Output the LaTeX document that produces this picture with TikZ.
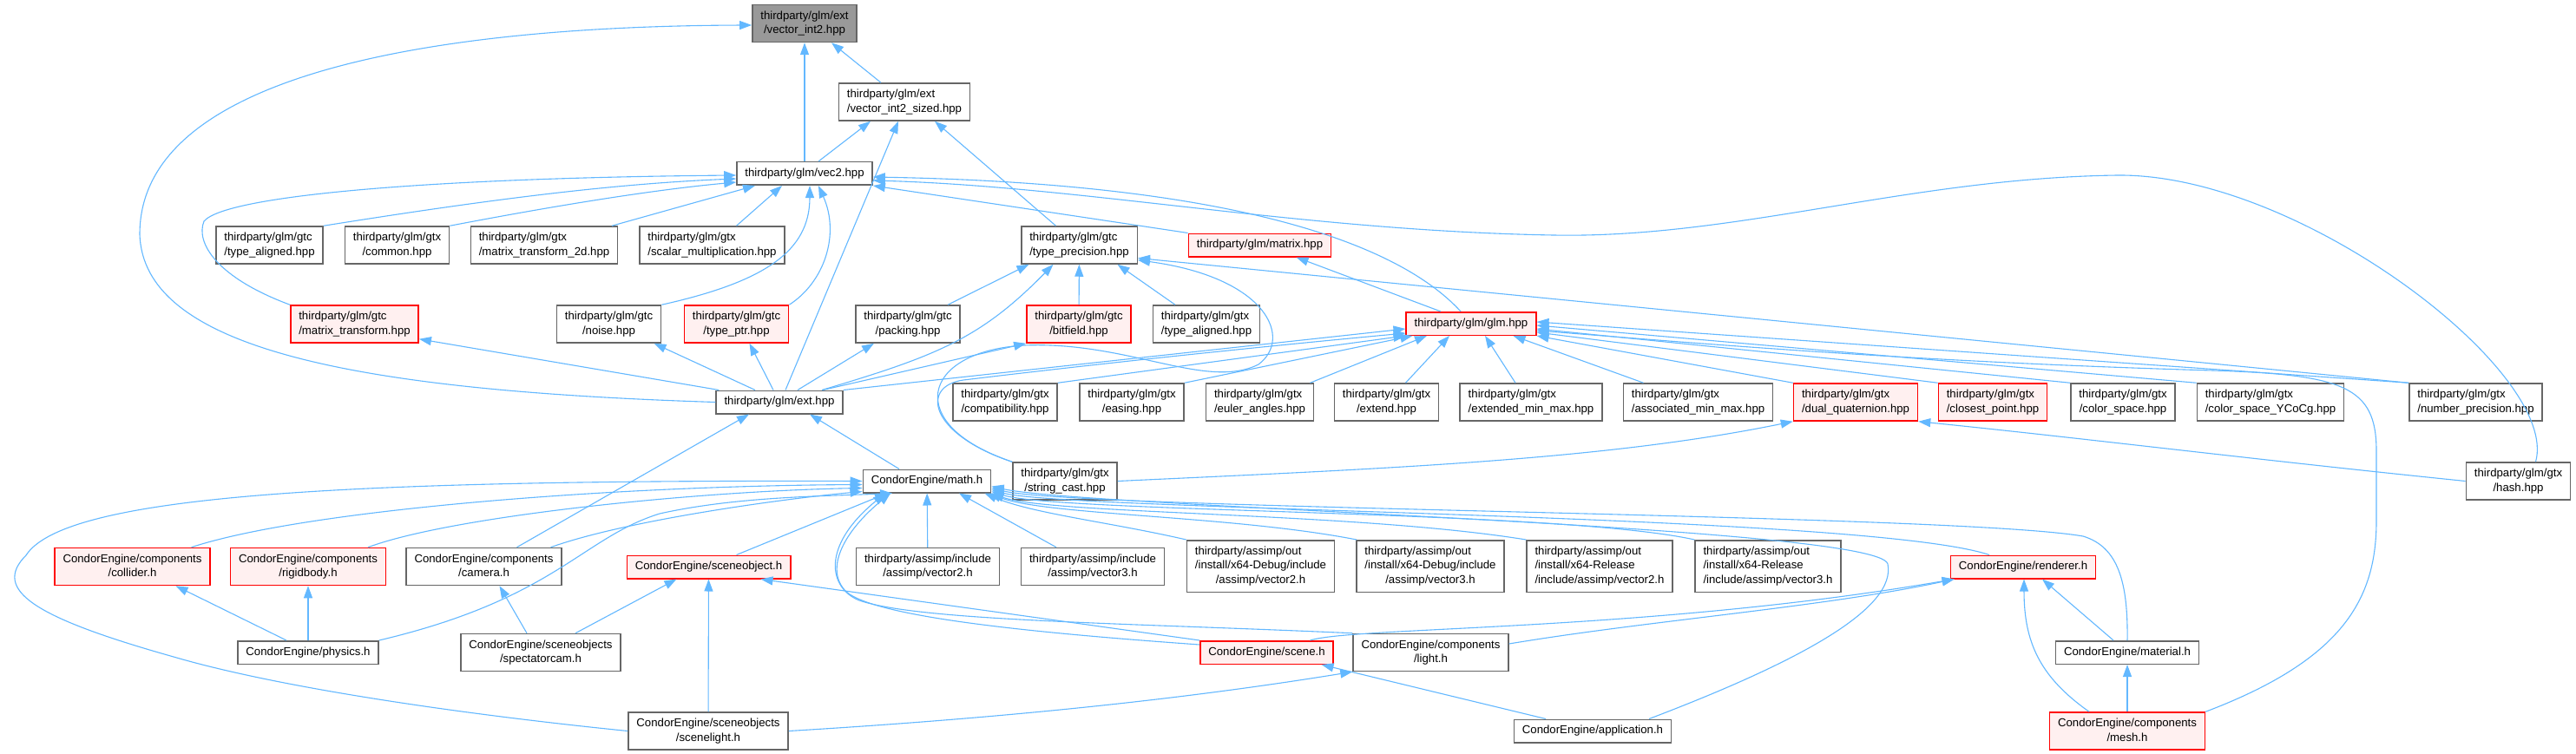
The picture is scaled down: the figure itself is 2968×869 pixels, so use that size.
\documentclass[tikz,border=0pt]{standalone}
\usepackage{fontspec}
\setmainfont{Liberation Sans}
\usetikzlibrary{arrows.meta}

\definecolor{edgeblue}{HTML}{63B8FF}
\definecolor{boxgray}{HTML}{666666}
\definecolor{rootgray}{HTML}{999999}
\definecolor{hotfill}{HTML}{FFF0F0}

% file label: lines flush left, last line centred
\newcommand{\fname}[1]{\begin{tabular}{@{}l@{}}#1\end{tabular}}
\newcommand{\lastln}[1]{\multicolumn{1}{@{}c@{}}{#1}}

\tikzset{
  hdr/.style={draw=boxgray, fill=white, line width=1.5pt,
    inner xsep=9.5pt, inner ysep=5pt,
    font=\fontsize{13.2}{16.5}\selectfont},
  hdrred/.style={hdr, draw=red, fill=hotfill},
  hdrroot/.style={hdr, fill=rootgray},
  dep/.style={draw=edgeblue, line width=1.1pt, -{Triangle[length=14pt,width=10pt]}}
}

\begin{document}
\begin{tikzpicture}[x=1pt, y=-1pt]
    \useasboundingbox (0,0) rectangle (2968,869);
    \fill[white] (0,0) rectangle (2968,869);

    % glm: top rows
    \node[hdrroot] (vi2) at (927,27) {\fname{thirdparty/glm/ext\\\lastln{/vector\_int2.hpp}}};
    \node[hdr] (sized) at (1042,117.5) {\fname{thirdparty/glm/ext\\\lastln{/vector\_int2\_sized.hpp}}};
    \node[hdr] (vec2) at (927,200) {\fname{thirdparty/glm/vec2.hpp}};

    \node[hdr] (gtcalign) at (310.5,282.5) {\fname{thirdparty/glm/gtc\\\lastln{/type\_aligned.hpp}}};
    \node[hdr] (common) at (457.5,282.5) {\fname{thirdparty/glm/gtx\\\lastln{/common.hpp}}};
    \node[hdr] (mt2d) at (627,282.5) {\fname{thirdparty/glm/gtx\\\lastln{/matrix\_transform\_2d.hpp}}};
    \node[hdr] (scalar) at (820.5,282.5) {\fname{thirdparty/glm/gtx\\\lastln{/scalar\_multiplication.hpp}}};
    \node[hdr] (tprec) at (1243.5,282.5) {\fname{thirdparty/glm/gtc\\\lastln{/type\_precision.hpp}}};
    \node[hdrred] (matrix) at (1451.5,282.5) {\fname{thirdparty/glm/matrix.hpp}};

    \node[hdrred] (mtrans) at (408.5,373.5) {\fname{thirdparty/glm/gtc\\\lastln{/matrix\_transform.hpp}}};
    \node[hdr] (noise) at (701.5,373.5) {\fname{thirdparty/glm/gtc\\\lastln{/noise.hpp}}};
    \node[hdrred] (typeptr) at (848.5,373.5) {\fname{thirdparty/glm/gtc\\\lastln{/type\_ptr.hpp}}};
    \node[hdr] (packing) at (1046,373.5) {\fname{thirdparty/glm/gtc\\\lastln{/packing.hpp}}};
    \node[hdrred] (bitfield) at (1243,373.5) {\fname{thirdparty/glm/gtc\\\lastln{/bitfield.hpp}}};
    \node[hdr] (gtxalign) at (1390,373.5) {\fname{thirdparty/glm/gtx\\\lastln{/type\_aligned.hpp}}};
    \node[hdrred] (glm) at (1695,373) {\fname{thirdparty/glm/glm.hpp}};

    % glm: ext.hpp and the gtx row
    \node[hdr] (ext) at (898,463.5) {\fname{thirdparty/glm/ext.hpp}};
    \node[hdr] (compat) at (1158,463.5) {\fname{thirdparty/glm/gtx\\\lastln{/compatibility.hpp}}};
    \node[hdr] (easing) at (1304,463.5) {\fname{thirdparty/glm/gtx\\\lastln{/easing.hpp}}};
    \node[hdr] (euler) at (1451.5,463.5) {\fname{thirdparty/glm/gtx\\\lastln{/euler\_angles.hpp}}};
    \node[hdr] (extend) at (1597.5,463.5) {\fname{thirdparty/glm/gtx\\\lastln{/extend.hpp}}};
    \node[hdr] (extminmax) at (1764,463.5) {\fname{thirdparty/glm/gtx\\\lastln{/extended\_min\_max.hpp}}};
    \node[hdr] (assocminmax) at (1956.5,463.5) {\fname{thirdparty/glm/gtx\\\lastln{/associated\_min\_max.hpp}}};
    \node[hdrred] (dualquat) at (2138,463.5) {\fname{thirdparty/glm/gtx\\\lastln{/dual\_quaternion.hpp}}};
    \node[hdrred] (closest) at (2296,463.5) {\fname{thirdparty/glm/gtx\\\lastln{/closest\_point.hpp}}};
    \node[hdr] (colsp) at (2446,463.5) {\fname{thirdparty/glm/gtx\\\lastln{/color\_space.hpp}}};
    \node[hdr] (ycocg) at (2616,463.5) {\fname{thirdparty/glm/gtx\\\lastln{/color\_space\_YCoCg.hpp}}};
    \node[hdr] (numprec) at (2852.5,463.5) {\fname{thirdparty/glm/gtx\\\lastln{/number\_precision.hpp}}};

    \node[hdr] (mathh) at (1068,554.5) {\fname{CondorEngine/math.h}};
    \node[hdr] (strcast) at (1227,554.5) {\fname{thirdparty/glm/gtx\\\lastln{/string\_cast.hpp}}};
    \node[hdr] (hash) at (2901.5,554.5) {\fname{thirdparty/glm/gtx\\\lastln{/hash.hpp}}};

    % engine headers and assimp
    \node[hdrred] (collider) at (152.5,653) {\fname{CondorEngine/components\\\lastln{/collider.h}}};
    \node[hdrred] (rigidbody) at (355,653) {\fname{CondorEngine/components\\\lastln{/rigidbody.h}}};
    \node[hdr] (camera) at (557.5,653) {\fname{CondorEngine/components\\\lastln{/camera.h}}};
    \node[hdrred] (sceneobj) at (816.5,653.5) {\fname{CondorEngine/sceneobject.h}};
    \node[hdr] (aivec2) at (1069,653) {\fname{thirdparty/assimp/include\\\lastln{/assimp/vector2.h}}};
    \node[hdr] (aivec3) at (1259,653) {\fname{thirdparty/assimp/include\\\lastln{/assimp/vector3.h}}};
    \node[hdr] (dbgvec2) at (1452.5,652.5) {\fname{thirdparty/assimp/out\\/install/x64-Debug/include\\\lastln{/assimp/vector2.h}}};
    \node[hdr] (dbgvec3) at (1648,652.5) {\fname{thirdparty/assimp/out\\/install/x64-Debug/include\\\lastln{/assimp/vector3.h}}};
    \node[hdr] (relvec2) at (1843,652.5) {\fname{thirdparty/assimp/out\\/install/x64-Release\\\lastln{/include/assimp/vector2.h}}};
    \node[hdr] (relvec3) at (2037,652.5) {\fname{thirdparty/assimp/out\\/install/x64-Release\\\lastln{/include/assimp/vector3.h}}};
    \node[hdrred] (renderer) at (2331,653.5) {\fname{CondorEngine/renderer.h}};

    \node[hdr] (physics) at (355,752) {\fname{CondorEngine/physics.h}};
    \node[hdr] (spectcam) at (623,752) {\fname{CondorEngine/sceneobjects\\\lastln{/spectatorcam.h}}};
    \node[hdrred] (scene) at (1459.5,752) {\fname{CondorEngine/scene.h}};
    \node[hdr] (light) at (1648.5,752) {\fname{CondorEngine/components\\\lastln{/light.h}}};
    \node[hdr] (material) at (2451,752) {\fname{CondorEngine/material.h}};

    \node[hdr] (scenelight) at (816,842.5) {\fname{CondorEngine/sceneobjects\\\lastln{/scenelight.h}}};
    \node[hdr] (app) at (1835,842.5) {\fname{CondorEngine/application.h}};
    \node[hdrred] (mesh) at (2451,842.5) {\fname{CondorEngine/components\\\lastln{/mesh.h}}};

    % includes of vector_int2.hpp and vector_int2_sized.hpp
    \draw[dep] (vec2) -- (vi2);
    \draw[dep] ([xshift=-27]sized.north) -- ([xshift=31]vi2.south);
    \draw[dep] (ext.west) .. controls (400,450) and (165,400) .. (161,270) .. controls (161,80) and (520,30) .. ([yshift=-2]vi2.west);
    \draw[dep] ([xshift=16]vec2.north) -- ([xshift=-39]sized.south);
    \draw[dep] ([xshift=7]ext.north) -- ([xshift=-7]sized.south);
    \draw[dep] ([xshift=-27]tprec.north) -- ([xshift=35]sized.south);

    % includes of vec2.hpp
    \draw[dep] (gtcalign.north east) .. controls (550,232) and (700,212) .. ([yshift=-6]vec2.west);
    \draw[dep] (common.north east) .. controls (650,235) and (760,218) .. ([yshift=-10]vec2.west);
    \draw[dep] ([xshift=78]mt2d.north) -- ([xshift=-57]vec2.south);
    \draw[dep] ([xshift=28]scalar.north) -- ([xshift=-26]vec2.south);
    \draw[dep] (mtrans.north west) .. controls (250,320) and (225,280) .. (235,255) .. controls (260,225) and (500,205) .. ([yshift=-2]vec2.west);
    \draw[dep] (noise.north east) .. controls (880,325) and (933,290) .. ([xshift=6]vec2.south);
    \draw[dep] (typeptr.north east) .. controls (950,325) and (968,270) .. ([xshift=16]vec2.south);
    \draw[dep] ([xshift=-12]glm.north) .. controls (1620,290) and (1450,212) .. ([yshift=-4]vec2.east);
    \draw[dep] ([xshift=20]hash.north) .. controls (2950,430) and (2650,200) .. (2440,202) .. controls (2200,205) and (2000,275) .. (1790,271) .. controls (1500,266) and (1250,215) .. ([yshift=-8]vec2.east);
    \draw[dep] (matrix.north west) -- (vec2.south east);
    \draw[dep] ([xshift=-35]glm.north) -- ([xshift=42]matrix.south);

    % ext.hpp
    \draw[dep] ([xshift=4]ext.north west) -- ([yshift=5]mtrans.south east);
    \draw[dep] ([xshift=-28]ext.north) -- ([xshift=52]noise.south);
    \draw[dep] ([xshift=-7]ext.north) -- ([xshift=15]typeptr.south);
    \draw[dep] ([xshift=21]ext.north) -- ([xshift=-39]packing.south);
    \draw[dep] ([xshift=49]ext.north) .. controls (1080,410) and (1130,390) .. ([xshift=-30]tprec.south);
    \draw[dep] ([xshift=50]ext.north) -- (bitfield.south west);
    \draw[dep] (ext.north east) -- ([yshift=-6]glm.west);

    % type_precision.hpp
    \draw[dep] ([xshift=46]packing.north) -- ([xshift=-58]tprec.south);
    \draw[dep] (bitfield) -- (tprec);
    \draw[dep] ([xshift=-36]gtxalign.north) -- ([xshift=44]tprec.south);
    \draw[dep] (numprec.north west) -- ([yshift=-15]tprec.east);
    \draw[dep] (strcast.north west) .. controls (1040,490) and (1060,405) .. (1180,398) .. controls (1300,393) and (1390,450) .. (1450,420) .. controls (1490,390) and (1460,320) .. ([yshift=5]tprec.south east);

    % glm.hpp
    \draw[dep] (strcast.north west) .. controls (1070,500) and (1060,445) .. (1110,438) .. controls (1300,415) and (1500,395) .. ([yshift=-11]glm.west);
    \draw[dep] (compat.north east) -- (glm.south west);
    \draw[dep] (easing.north east) -- ([xshift=8]glm.south west);
    \draw[dep] ([xshift=58]euler.north) -- ([xshift=-51]glm.south);
    \draw[dep] ([xshift=22]extend.north) -- ([xshift=-25]glm.south);
    \draw[dep] ([xshift=-18]extminmax.north) -- ([xshift=16]glm.south);
    \draw[dep] ([xshift=-63]assocminmax.north) -- ([xshift=-27]glm.south east);
    \draw[dep] (dualquat.north west) -- (glm.south east);
    \draw[dep] (closest.north west) -- ([yshift=-10]glm.east);
    \draw[dep] (colsp.north west) -- ([yshift=-6]glm.east);
    \draw[dep] (ycocg.north west) -- ([yshift=-2]glm.east);
    \draw[dep] (numprec.north west) -- ([yshift=2]glm.east);
    \draw[dep] (mesh.north east) .. controls (2700,760) and (2738,690) .. (2738,600) -- (2738,520) .. controls (2738,445) and (2700,432) .. (2550,427) .. controls (2200,417) and (1950,395) .. ([yshift=-8]glm.east);

    % dual_quaternion.hpp
    \draw[dep] (strcast.east) .. controls (1600,540) and (1850,530) .. (dualquat.south west);
    \draw[dep] (hash.west) .. controls (2600,530) and (2400,505) .. (dualquat.south east);

    % math.h
    \draw[dep] ([xshift=-32]mathh.north) -- ([xshift=35]ext.south);
    \draw[dep] ([xshift=38]camera.north) -- ([xshift=-35]ext.south);
    \draw[dep] ([xshift=68]collider.north) .. controls (350,588) and (700,560) .. ([yshift=-4]mathh.west);
    \draw[dep] ([xshift=69]rigidbody.north) .. controls (520,595) and (800,566) .. ([yshift=-8]mathh.west);
    \draw[dep] ([xshift=77]camera.north) .. controls (720,600) and (900,575) .. ([yshift=-12]mathh.west);
    \draw[dep] (scenelight.west) .. controls (550,825) and (330,795) .. (200,757) .. controls (40,712) and (-10,680) .. (30,640) .. controls (75,570) and (400,553) .. (mathh.west);
    \draw[dep] (physics.north east) .. controls (640,690) and (670,620) .. (760,592) .. controls (850,572) and (950,572) .. ([xshift=-40]mathh.south);
    \draw[dep] ([xshift=32]sceneobj.north) -- ([xshift=-46]mathh.south);
    \draw[dep] (aivec2) -- (mathh);
    \draw[dep] ([xshift=-42]aivec3.north) -- ([xshift=37]mathh.south);
    \draw[dep] (dbgvec2.north west) .. controls (1280,602) and (1190,592) .. ([xshift=-8]mathh.south east);
    \draw[dep] ([xshift=-85]dbgvec3.north) .. controls (1420,594) and (1205,594) .. ([xshift=-3]mathh.south east);
    \draw[dep] (relvec2.north west) .. controls (1560,590) and (1210,593) .. (mathh.south east);
    \draw[dep] (relvec3.north west) .. controls (1800,588) and (1220,591) .. ([yshift=2]mathh.south east);
    \draw[dep] ([xshift=-39]renderer.north) .. controls (2150,592) and (1230,589) .. ([yshift=4]mathh.south east);
    \draw[dep] (material.north) .. controls (2452,670) and (2440,630) .. (2400,618) .. controls (2250,592) and (1240,587) .. ([yshift=6]mathh.south east);
    \draw[dep] ([xshift=65]app.north) .. controls (2080,760) and (2185,700) .. (2175,650) .. controls (2165,606) and (1250,585) .. ([yshift=8]mathh.south east);
    \draw[dep] ([yshift=9]scene.west) .. controls (1200,730) and (1010,712) .. (975,682) .. controls (948,655) and (975,610) .. ([xshift=-42]mathh.south);
    \draw[dep] (light.north west) .. controls (1300,718) and (1060,716) .. (990,692) .. controls (955,678) and (945,630) .. ([xshift=-48]mathh.south);

    % engine headers
    \draw[dep] (scene.north west) -- ([xshift=60]sceneobj.south);
    \draw[dep] (scenelight) -- (sceneobj);
    \draw[dep] ([xshift=40]spectcam.north) -- ([xshift=-37]sceneobj.south);
    \draw[dep] ([xshift=-16]spectcam.north) -- ([xshift=18]camera.south);
    \draw[dep] ([xshift=-25]physics.north) -- ([xshift=50]collider.south);
    \draw[dep] (physics) -- (rigidbody);
    \draw[dep] ([xshift=50]scene.north) .. controls (1560,722) and (1900,728) .. ([xshift=5]renderer.south west);
    \draw[dep] ([yshift=10]light.east) .. controls (1900,715) and (2100,700) .. ([xshift=5]renderer.south west);
    \draw[dep] ([xshift=-16]material.north) -- ([xshift=22]renderer.south);
    \draw[dep] ([xshift=-44]mesh.north) .. controls (2350,780) and (2332,740) .. ([xshift=1]renderer.south);
    \draw[dep] (mesh) -- (material);
    \draw[dep] ([xshift=-54]app.north) -- ([xshift=63]scene.south);
    \draw[dep] (scenelight.east) .. controls (1200,825) and (1400,800) .. (light.south west);

\end{tikzpicture}
\end{document}
